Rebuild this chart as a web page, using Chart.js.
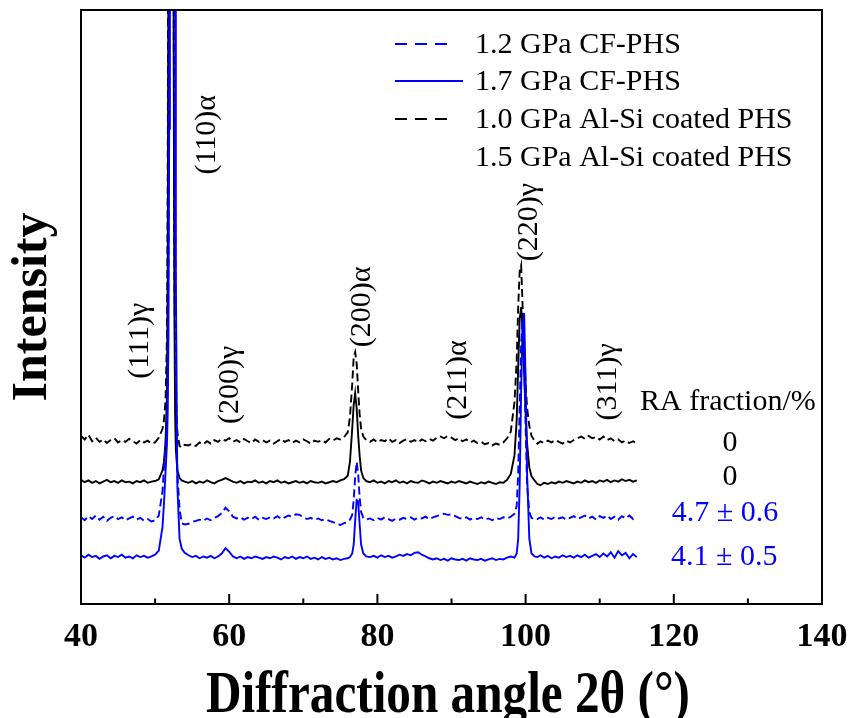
<!DOCTYPE html>
<html>
<head>
<meta charset="utf-8">
<script src="https://cdn.jsdelivr.net/npm/chart.js@4.4.0/dist/chart.umd.min.js"></script>
<style>
  html, body { margin: 0; padding: 0; background: #fff; }
  #wrap { width: 853px; height: 718px; }
</style>
</head>
<body>
<div id="wrap"><canvas id="xrdChart" width="853" height="718"></canvas></div>
<script>
// 2theta grid (deg), finer around the three main peaks
const twoTheta = [
    40, 40.5, 41, 41.5, 42, 42.5, 43, 43.5, 44, 44.5, 45, 45.5, 46, 46.5, 47, 47.5, 48, 48.5, 49, 49.5, 50,
    50.5, 51, 51.2, 51.4, 51.6, 51.7, 51.8, 51.9, 52, 52.1, 52.2, 52.3, 52.4, 52.5, 52.6, 52.7, 52.8, 53, 53.3, 53.6, 54,
    54.5, 55, 55.5, 56, 56.5, 57, 57.5, 58, 58.5, 59,
    59.5, 60, 60.5, 61, 61.5, 62, 62.5, 63, 63.5, 64,
    64.5, 65, 65.5, 66, 66.5, 67, 67.5, 68, 68.5, 69,
    69.5, 70, 70.5, 71, 71.5, 72, 72.5, 73, 73.5, 74,
    74.5, 75, 75.5,
    76, 76.3, 76.6, 76.8, 77, 77.2, 77.4, 77.6, 77.8, 78.1, 78.5,
    79, 79.5, 80, 80.5, 81, 81.5, 82, 82.5, 83, 83.5,
    84, 84.5, 85, 85.5, 86, 86.5, 87, 87.5, 88, 88.5,
    89, 89.5, 90, 90.5, 91, 91.5, 92, 92.5, 93, 93.5,
    94, 94.5, 95, 95.5, 96, 96.5, 97, 97.5, 98,
    98.5, 98.8, 99, 99.2, 99.4, 99.6, 99.8, 100, 100.2, 100.5, 100.8, 101.2,
    101.6, 102, 102.5, 103, 103.5, 104, 104.5, 105, 105.5, 106,
    106.5, 107, 107.5, 108, 108.5, 109, 109.5, 110, 110.5, 111,
    111.5, 112, 112.5, 113, 113.5, 114, 114.5, 115
];

// 1.0 GPa Al-Si coated PHS (offset intensity, arbitrary units)
const int10AlSi = [
    28.3, 27.7, 28.5, 27.4, 28.0, 27.3, 27.7, 27.1, 27.6, 27.9, 27.2, 27.6, 27.3, 27.8, 27.4, 27.0, 27.6, 27.2, 27.5, 27.0, 27.2,
    28.0, 29.5, 31, 34, 45, 70, 130, 260, 420, 520, 500, 380, 220, 110, 60, 40, 33, 29, 26.6, 26.3, 26.8,
    26.7, 27.0, 26.6, 27.2, 26.9, 27.4, 27.0, 27.6, 27.3, 27.8,
    27.5, 27.9, 27.3, 27.6, 27.2, 27.8, 27.4, 27.1, 27.7, 27.3,
    27.6, 27.2, 27.5, 27.0, 27.4, 27.8, 27.3, 27.6, 27.1, 27.5,
    27.2, 27.7, 27.4, 27.0, 27.5, 27.3, 27.6, 27.2, 27.8, 27.5,
    27.9, 27.7, 28.1,
    28.9, 31.5, 37, 41.5, 42.4, 40.5, 36, 32, 29.5, 28.2, 27.6,
    27.3, 27.7, 27.2, 27.6, 27.4, 27.9, 27.3, 27.6, 27.1, 27.5,
    27.8, 27.3, 27.6, 27.2, 27.7, 27.4, 27.8, 27.5, 28.0, 28.2,
    27.9, 28.3, 28.0, 27.6, 27.9, 27.4, 27.7, 27.2, 27.5, 27.1,
    27.3, 26.9, 27.1, 26.7, 27.0, 26.8, 27.2, 27.9, 29.0,
    34, 41, 50, 56, 57, 50, 43, 37, 33, 30, 28.3, 27.5,
    27.0, 27.4, 27.1, 27.5, 27.2, 27.6, 27.3, 27.0, 27.5, 27.2,
    27.6, 27.9, 28.2, 27.8, 28.3, 27.9, 28.1, 27.7, 28.2, 27.6,
    27.9, 27.4, 27.7, 27.2, 27.5, 27.1, 27.4, 27.0
];

// 1.5 GPa Al-Si coated PHS
const int15AlSi = [
    20.9, 20.5, 20.8, 20.4, 20.7, 20.3, 20.6, 20.9, 20.5, 20.7, 20.4, 20.8, 20.5, 20.6, 20.3, 20.7, 20.5, 20.8, 20.4, 20.6, 20.7,
    21.0, 22.5, 24, 27, 35, 55, 110, 240, 400, 500, 480, 360, 200, 95, 50, 32, 26, 22.5, 21.2, 20.8, 20.6,
    20.4, 20.7, 20.3, 20.6, 20.4, 20.8, 20.5, 20.3, 20.7, 20.9,
    21.2, 20.9, 20.6, 20.4, 20.7, 20.3, 20.6, 20.5, 20.8, 20.4,
    20.6, 20.3, 20.7, 20.5, 20.8, 20.4, 20.6, 20.3, 20.5, 20.7,
    20.4, 20.6, 20.3, 20.7, 20.5, 20.4, 20.6, 20.3, 20.5, 20.7,
    20.5, 20.8, 21.0,
    21.6, 24, 29.5, 33.5, 35.5, 33, 28.5, 25, 22.5, 21.2, 20.7,
    20.5, 20.8, 20.4, 20.6, 20.3, 20.7, 20.5, 20.8, 20.4, 20.6,
    20.3, 20.7, 20.5, 20.4, 20.8, 20.6, 20.3, 20.6, 20.4, 20.7,
    20.5, 20.3, 20.6, 20.4, 20.7, 20.5, 20.3, 20.6, 20.4, 20.2,
    20.5, 20.3, 20.6, 20.4, 20.2, 20.5, 20.4, 20.9, 21.9,
    25, 31, 40, 48, 50, 46, 39, 32, 27, 23, 21.5, 20.8,
    20.2, 20.0, 20.4, 20.2, 20.5, 20.3, 20.6, 20.4, 20.7, 20.5,
    20.3, 20.6, 20.4, 20.8, 20.5, 20.7, 20.4, 20.8, 20.6, 20.9,
    20.5, 20.8, 20.6, 21.0, 20.7, 20.9, 20.6, 20.8
];

// 1.2 GPa CF-PHS
const int12CF = [
    14.6, 14.1, 14.8, 14.3, 14.9, 14.2, 14.7, 14.0, 14.5, 14.8, 14.3, 14.6, 14.1, 14.4, 14.7, 14.2, 14.5, 14.0, 14.3, 13.9, 14.1,
    14.9, 19, 23, 26.5, 31, 38, 58, 95, 190, 340, 470, 520, 450, 300, 150, 70, 40, 22, 16, 13.6, 13.4,
    13.5, 13.8, 14.0, 14.2, 14.0, 14.4, 14.1, 14.5, 14.8, 15.3,
    16.2, 15.6, 14.7, 14.4, 14.6, 14.2, 14.5, 14.3, 14.7, 14.2,
    14.5, 14.3, 14.6, 14.4, 14.8, 14.3, 14.6, 14.9, 14.7, 15.1,
    15.0, 14.6, 14.3, 14.5, 14.2, 14.4, 14.1, 14.3, 14.0, 13.8,
    13.5, 13.3, 13.6,
    13.8, 14.2, 15, 17.5, 21.5, 23.9, 22, 18, 15.5, 14.5, 14.2,
    14.4, 14.1, 14.5, 14.2, 14.6, 14.3, 14.0, 14.4, 14.2, 14.5,
    14.3, 14.6, 14.2, 14.5, 14.4, 14.7, 14.3, 14.6, 14.8, 15.0,
    15.2, 15.0, 15.1, 14.8, 14.5, 14.3, 14.6, 14.2, 14.5, 14.3,
    14.6, 14.2, 14.4, 14.1, 14.5, 14.3, 14.6, 14.4, 14.7,
    15.2, 16.5, 22, 33, 44, 48, 42, 30, 20, 15.5, 14.5, 14.2,
    14.3, 14.6, 14.2, 14.5, 14.3, 14.7, 14.4, 14.6, 14.2, 14.5,
    14.8, 14.3, 14.6, 14.9, 14.4, 14.7, 14.2, 14.8, 14.5, 14.9,
    14.3, 14.7, 14.2, 14.8, 14.4, 14.9, 14.3, 14.6
];

// 1.7 GPa CF-PHS
const int17CF = [
    8.2, 7.8, 8.3, 7.9, 8.1, 7.6, 8.0, 8.2, 7.7, 8.1, 7.9, 8.3, 7.8, 8.0, 7.7, 8.2, 7.9, 8.1, 7.8, 8.0, 8.3,
    9, 13, 17, 22, 27, 32, 45, 80, 170, 320, 460, 540, 520, 400, 240, 110, 55, 20, 11, 9.3, 8.6,
    8.2, 7.9, 8.1, 7.7, 8.0, 7.8, 8.1, 7.7, 8.0, 8.5,
    9.4, 8.8, 8.0, 7.7, 8.0, 7.6, 7.9, 7.7, 8.0, 7.8,
    7.6, 7.9, 7.7, 8.0, 7.8, 7.5, 7.9, 7.7, 8.0, 7.6,
    7.9, 7.7, 8.0, 7.6, 7.8, 7.5, 7.9, 7.6, 7.8, 7.5,
    7.7, 7.4, 7.6,
    7.7, 7.9, 8.5, 10, 14, 17.5, 17.3, 13.5, 10, 8.5, 8,
    7.9, 8.1, 7.8, 8.2, 7.9, 8.1, 7.8, 8.0, 8.3, 8.1,
    8.4, 8.2, 8.6, 8.7, 8.3, 8.0, 7.7, 7.5, 7.7, 7.4,
    7.6, 7.3, 7.7, 7.5, 7.4, 7.6, 7.3, 7.7, 7.5, 7.4,
    7.6, 7.3, 7.5, 7.7, 7.4, 7.6, 7.5, 7.8, 8.0,
    7.8, 8.5, 11, 20, 36, 47, 49, 38, 22, 11, 8.5, 8,
    7.9, 8.2, 7.8, 8.1, 7.7, 8.0, 7.8, 8.2, 7.9, 8.1,
    7.8, 8.2, 7.9, 8.3, 7.8, 8.1, 8.4, 7.9, 8.5, 8.0,
    8.7, 7.8, 8.9, 8.2, 8.6, 7.7, 8.4, 7.9
];

const seriesNames = [
    '1.2 GPa CF-PHS',
    '1.7 GPa CF-PHS',
    '1.0 GPa Al-Si coated PHS',
    '1.5 GPa Al-Si coated PHS'
];
const peakNames = ['(110)α', '(111)γ', '(200)γ', '(200)α', '(211)α', '(220)γ', '(311)γ'];
const raHeader = 'RA fraction/%';
const raValues = ['0', '0', '4.7 ± 0.6', '4.1 ± 0.5'];
const minorTicks = [50, 70, 90, 110, 130];

const SERIF = "'Liberation Serif', 'Times New Roman', serif";
const BLUE = '#0000ff';

// where the annotations sit, in axis units (2theta, intensity)
const peakLabelPos = [[57.0, 79], [48.0, 44.3], [60.1, 36.9], [77.9, 50.0], [90.9, 37.7], [100.5, 64.3], [111.1, 37.4]];
const raHeaderPos = [127.3, 34.0];
const raPos = [[127.6, 27.1], [127.6, 21.4], [126.9, 15.3], [126.8, 7.9]];
const raColors = ['#000', '#000', BLUE, BLUE];

function toPoints(arr) {
    return twoTheta.map((t, i) => ({ x: t, y: arr[i] }));
}

const datasets = [
    { label: seriesNames[0], data: toPoints(int12CF), borderColor: BLUE, borderDash: [8, 4] },
    { label: seriesNames[1], data: toPoints(int17CF), borderColor: BLUE },
    { label: seriesNames[2], data: toPoints(int10AlSi), borderColor: '#000', borderDash: [8, 4] },
    { label: seriesNames[3], data: toPoints(int15AlSi), borderColor: '#000' }
].map(d => Object.assign({ borderWidth: 1.9, pointRadius: 0, fill: false, tension: 0 }, d));

/**
 * Frame, inward ticks, legend and text annotations
 */
const overlay = {
    id: 'overlay',
    afterDatasetsDraw(chart) {
        const { ctx, chartArea: a, scales: { x, y } } = chart;
        ctx.save();

        // box
        ctx.strokeStyle = '#000';
        ctx.lineWidth = 2;
        ctx.setLineDash([]);
        ctx.strokeRect(a.left, a.top, a.right - a.left, a.bottom - a.top);

        // ticks pointing inwards on the bottom axis
        ctx.beginPath();
        x.ticks.forEach(t => {
            const px = x.getPixelForValue(t.value);
            ctx.moveTo(px, a.bottom);
            ctx.lineTo(px, a.bottom - 10);
        });
        minorTicks.forEach(v => {
            const px = x.getPixelForValue(v);
            ctx.moveTo(px, a.bottom);
            ctx.lineTo(px, a.bottom - 5.5);
        });
        ctx.stroke();

        // peak labels (rotated)
        ctx.fillStyle = '#000';
        ctx.font = '30px ' + SERIF;
        ctx.textAlign = 'center';
        ctx.textBaseline = 'middle';
        peakNames.forEach((txt, i) => {
            const [vx, vy] = peakLabelPos[i];
            ctx.save();
            ctx.translate(x.getPixelForValue(vx), y.getPixelForValue(vy));
            ctx.rotate(-Math.PI / 2);
            ctx.fillText(txt, 0, 0);
            ctx.restore();
        });

        // RA fraction column
        ctx.fillText(raHeader, x.getPixelForValue(raHeaderPos[0]), y.getPixelForValue(raHeaderPos[1]));
        raValues.forEach((txt, i) => {
            ctx.fillStyle = raColors[i];
            ctx.fillText(txt, x.getPixelForValue(raPos[i][0]), y.getPixelForValue(raPos[i][1]));
        });

        // legend
        const lx = 395, tx = 475, rowY = [45, 82, 120, 158];
        ctx.textAlign = 'left';
        chart.data.datasets.forEach((ds, i) => {
            const ry = rowY[i];
            if (i < 3) {
                ctx.strokeStyle = ds.borderColor;
                ctx.lineWidth = 2;
                ctx.setLineDash(ds.borderDash ? [12, 8] : []);
                ctx.beginPath();
                ctx.moveTo(lx, ry - 1);
                ctx.lineTo(ds.borderDash ? 452 : 463, ry - 1);
                ctx.stroke();
            }
            ctx.fillStyle = '#000';
            ctx.fillText(ds.label, tx, ry);
        });
        ctx.setLineDash([]);

        // x axis title, slightly condensed like the original
        ctx.save();
        ctx.translate(448, 712);
        ctx.scale(0.82, 1);
        ctx.font = 'bold 60px ' + SERIF;
        ctx.textAlign = 'center';
        ctx.textBaseline = 'alphabetic';
        ctx.fillStyle = '#000';
        ctx.fillText('Diffraction angle 2θ (°)', 0, 0);
        ctx.restore();

        ctx.restore();
    }
};

new Chart(document.getElementById('xrdChart').getContext('2d'), {
    type: 'line',
    data: { datasets: datasets },
    options: {
        responsive: false,
        animation: false,
        layout: { padding: { top: 10, right: 31, left: 0, bottom: 0 } },
        plugins: { legend: { display: false }, tooltip: { enabled: false } },
        scales: {
            x: {
                type: 'linear',
                min: 40,
                max: 140,
                afterFit: s => { s.height = 114; s.paddingLeft = 0; s.paddingRight = 0; },
                grid: { display: false, drawTicks: false },
                border: { display: false },
                ticks: {
                    stepSize: 20,
                    padding: 13,
                    color: '#000',
                    font: { family: SERIF, size: 34, weight: 'bold' }
                },
                title: { display: false }
            },
            y: {
                min: 0,
                max: 100,
                afterFit: s => { s.width = 81; },
                grid: { display: false, drawTicks: false },
                border: { display: false },
                ticks: { display: false },
                title: {
                    display: true,
                    text: 'Intensity',
                    color: '#000',
                    padding: { top: 3, bottom: 0 },
                    font: { family: SERIF, size: 50, weight: 'bold' }
                }
            }
        }
    },
    plugins: [overlay]
});
</script>
</body>
</html>
